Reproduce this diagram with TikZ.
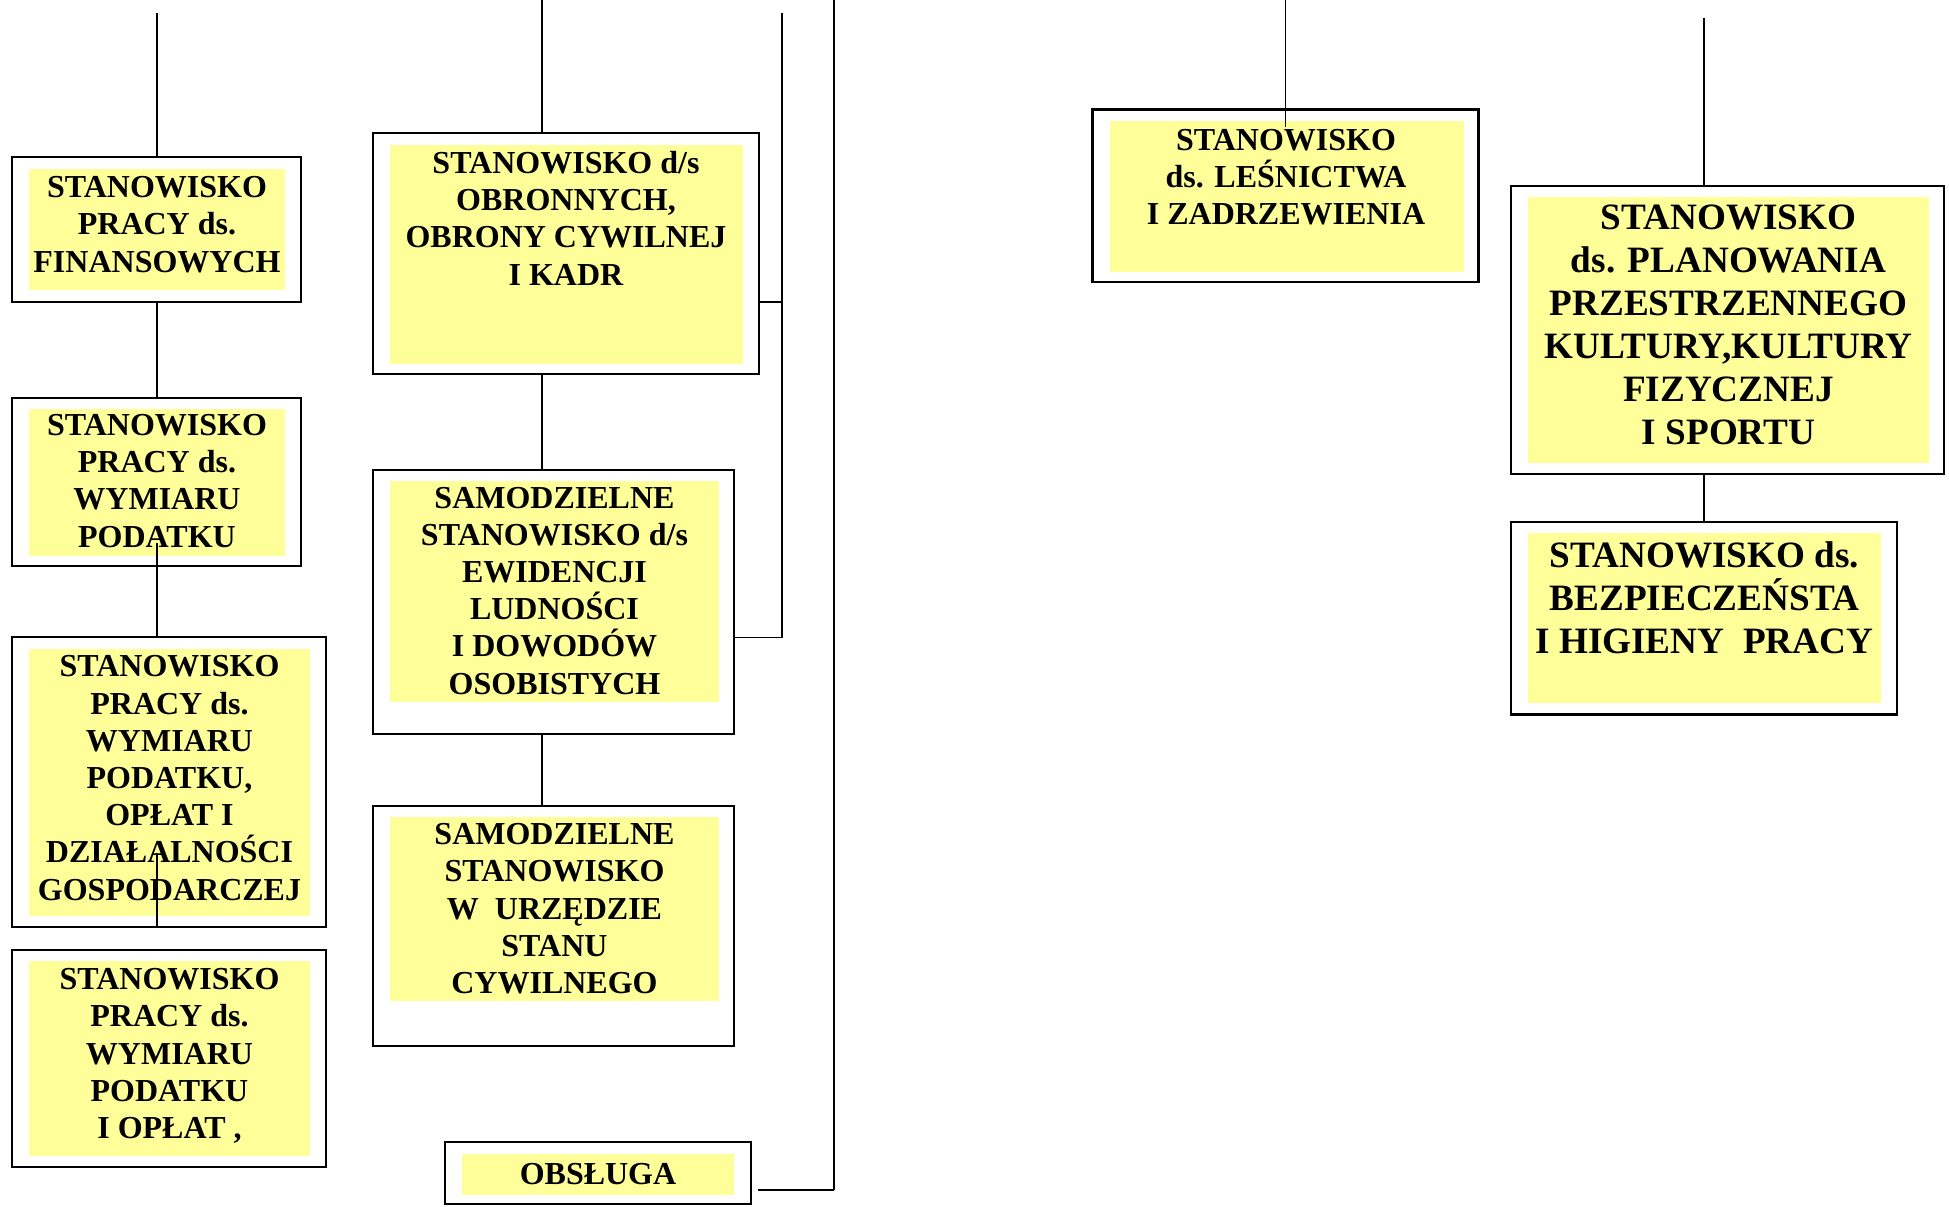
\documentclass[tikz,border=0pt]{standalone}
\usepackage{fontspec}
\setmainfont{Liberation Serif}
\usetikzlibrary{fit}
\definecolor{yel}{RGB}{255,255,153}
\tikzset{
  obox/.style={draw=black, line width=1.1pt, fill=white, inner sep=0pt},
  ybox/.style={fill=yel},
  ttext/.style={align=center, inner sep=0pt, anchor=base, font=\bfseries\fontsize{16}{18.6}\selectfont},
  btext/.style={align=center, inner sep=0pt, anchor=base, font=\bfseries\fontsize{18.6}{21.5}\selectfont},
  conn/.style={draw=black, line width=0.95pt},
}
\begin{document}
\begin{tikzpicture}[x=0.5pt,y=-0.5pt]
\useasboundingbox (0,0) rectangle (1949,1206);
% text nodes are placed at the baseline of their last line
% ---------- left column ----------
\node[obox, fit={(12,157) (301,302)}] (L1) {};
\fill[ybox] (29,169) rectangle (285,290);
\node[ttext] (L1t) at (157,272) {STANOWISKO\\PRACY ds.\\FINANSOWYCH};
\node[obox, fit={(12,398) (301,566)}] (L2) {};
\fill[ybox] (29,409) rectangle (285,556);
\node[ttext] (L2t) at (157,547) {STANOWISKO\\PRACY ds.\\WYMIARU\\PODATKU};
\node[obox, fit={(12,637) (326,927)}] (L3) {};
\fill[ybox] (29,649) rectangle (310,916);
\node[ttext] (L3t) at (169.5,900) {STANOWISKO\\PRACY ds.\\WYMIARU\\PODATKU,\\OPŁAT I\\DZIAŁALNOŚCI\\GOSPODARCZEJ};
\node[obox, fit={(12,950) (326,1167)}] (L4) {};
\fill[ybox] (29,961) rectangle (310,1156);
\node[ttext] (L4t) at (169.5,1138.5) {STANOWISKO\\PRACY ds.\\WYMIARU\\PODATKU\\I OPŁAT ,};
% ---------- middle column ----------
\node[obox, fit={(373,133) (759,374)}] (M1) {};
\fill[ybox] (390,145) rectangle (742.5,364);
\node[ttext] (M1t) at (566,285) {STANOWISKO d/s\\OBRONNYCH,\\OBRONY CYWILNEJ\\I KADR};
\node[obox, fit={(373,470) (734,734)}] (M2) {};
\fill[ybox] (390,481) rectangle (719,702);
\node[ttext] (M2t) at (554.5,694) {SAMODZIELNE\\STANOWISKO d/s\\EWIDENCJI\\LUDNOŚCI\\I DOWODÓW\\OSOBISTYCH};
\node[obox, fit={(373,806) (734,1046)}] (M3) {};
\fill[ybox] (390,817) rectangle (719,1001);
\node[ttext] (M3t) at (554.5,993.5) {SAMODZIELNE\\STANOWISKO\\W~ URZĘDZIE\\STANU\\CYWILNEGO};
\node[obox, fit={(445,1142) (751,1204)}] (OB) {};
\fill[ybox] (462,1153.5) rectangle (734,1195);
\node[ttext] (OBt) at (598,1184) {OBSŁUGA};
% ---------- right part ----------
\node[obox, fit={(1092.5,109.5) (1478.5,282)}] (R1) {};
\fill[ybox] (1110,121) rectangle (1463.5,271.6);
\node[ttext] (R1t) at (1286,224.8) {STANOWISKO\\ds. LEŚNICTWA\\I ZADRZEWIENIA};
\node[obox, fit={(1511,186) (1944,474)}] (R2) {};
\fill[ybox] (1528,197) rectangle (1929,463);
\node[btext] (R2t) at (1728.5,444.8) {STANOWISKO\\ds. PLANOWANIA\\PRZESTRZENNEGO\\KULTURY,KULTURY\\FIZYCZNEJ\\I SPORTU};
\node[obox, fit={(1511,522) (1896.6,714.5)}] (R3) {};
\fill[ybox] (1528,533) rectangle (1880.6,703);
\node[btext] (R3t) at (1704.3,653) {STANOWISKO ds.\\BEZPIECZEŃSTA\\I HIGIENY~ PRACY};
% ---------- free ends ----------
\coordinate (c1) at (157,13);
\coordinate (c2a) at (157,543);
\coordinate (c3a) at (157,853);
\coordinate (c3b) at (157,927);
\coordinate (c4) at (542,0);
\coordinate (c5t) at (782,13);
\coordinate (c5a) at (782,302);
\coordinate (c5b) at (782,637.5);
\coordinate (c6t) at (834,0);
\coordinate (c6b) at (834,1190);
\coordinate (c6l) at (758,1190);
\coordinate (c7t) at (1285.5,0);
\coordinate (c7b) at (1285.5,127);
\coordinate (c8) at (1703.6,17.7);
% ---------- connectors ----------
\draw[conn] (c1) -- (c1 |- L1.north);
\draw[conn] (c1 |- L1.south) -- (c1 |- L2.north);
\draw[conn] (c2a) -- (c2a |- L3.north);
\draw[conn] (c3a) -- (c3b);
\draw[conn] (c4) -- (c4 |- M1.north);
\draw[conn] (c4 |- M1.south) -- (c4 |- M2.north);
\draw[conn] (c4 |- M2.south) -- (c4 |- M3.north);
\draw[conn] (M1.east |- c5a) -- (c5a);
\draw[conn] (M2.east |- c5b) -- (c5b);
\draw[conn] (c5t) -- (c5b);
\draw[conn] (c6t) -- (c6b);
\draw[conn] (c6l) -- (c6b);
\draw[conn] (c7t) -- (c7b);
\draw[conn] (c8) -- (c8 |- R2.north);
\draw[conn] (c8 |- R2.south) -- (c8 |- R3.north);
\end{tikzpicture}
\end{document}
